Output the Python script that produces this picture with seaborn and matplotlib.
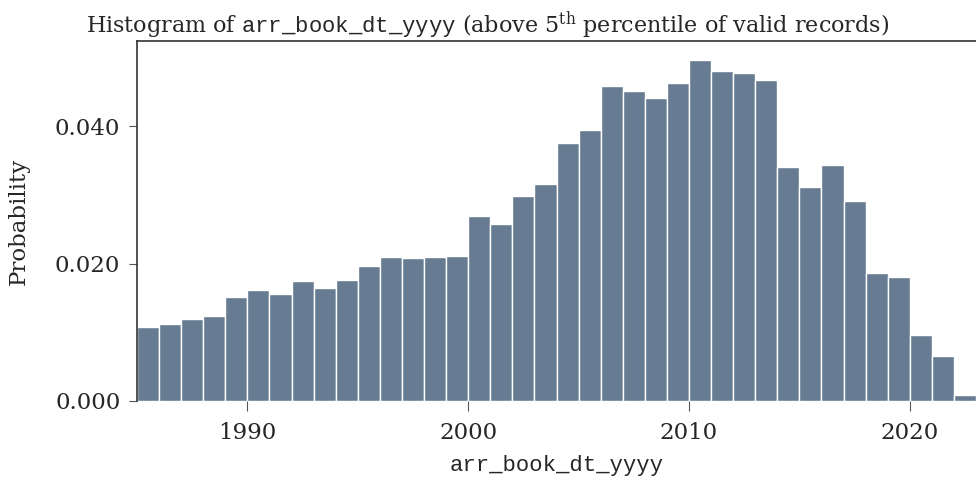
import numpy as np
import pandas as pd
import matplotlib
matplotlib.use("Agg")
import matplotlib.pyplot as plt
import seaborn as sns

# year bins (left edges) and bar heights
years = np.arange(1985, 2023)
probs = [0.0108, 0.0112, 0.0119, 0.0124, 0.0152, 0.0162, 0.0156, 0.0175, 0.0165, 0.0176,
         0.0196, 0.0209, 0.0208, 0.0210, 0.0211, 0.0269, 0.0257, 0.0298, 0.0316, 0.0375,
         0.0394, 0.0458, 0.0451, 0.0441, 0.0463, 0.0497, 0.0480, 0.0477, 0.0467, 0.0340,
         0.0311, 0.0343, 0.0291, 0.0187, 0.0181, 0.0096, 0.0065, 0.0008]
y_ticks = [0.0, 0.02, 0.04]
x_ticks = [1990, 2000, 2010, 2020]

df = pd.DataFrame({"year": years + 0.5, "prob": probs})

sns.set_style("ticks")
plt.rcParams['font.family'] = ['DejaVu Serif']
plt.rcParams['mathtext.fontset'] = 'custom'
plt.rcParams['mathtext.rm'] = 'DejaVu Serif'
plt.rcParams['mathtext.tt'] = 'Liberation Mono'

fig = plt.figure(figsize=(9.76, 4.87), dpi=100)
ax = fig.add_axes([0.1404, 0.1766, 0.8596, 0.7392])

sns.histplot(data=df, x="year", weights="prob", binwidth=1, binrange=(1985, 2023),
             stat="count", color="#677c93", alpha=1.0, edgecolor="white",
             linewidth=1.0, ax=ax)

ax.set_xlim(1985, 2023)
ax.set_ylim(0, 0.0524)
ax.set_yticks(y_ticks)
ax.set_yticklabels([f"{v:.3f}" for v in y_ticks])
ax.set_xticks(x_ticks)
ax.tick_params(axis='both', labelsize=16.5, color="#555555", direction='out')
ax.tick_params(axis='x', length=7, pad=8)
ax.tick_params(axis='y', length=6, pad=6)

ax.set_ylabel("Probability", fontsize=16.5, labelpad=18)
ax.set_xlabel("arr_book_dt_yyyy", fontsize=16, family="Liberation Mono", labelpad=8)
# title sits centred on the whole figure, not on the axes
ax.set_title(r"Histogram of $\mathtt{arr\_book\_dt\_yyyy}$ (above 5$^{\mathrm{th}}$ percentile of valid records)",
             fontsize=16, pad=6, x=0.418)

for side in ["left", "top"]:
    ax.spines[side].set_color("#333333")
    ax.spines[side].set_linewidth(1.2)
ax.spines["bottom"].set_visible(False)
ax.spines["right"].set_visible(False)

fig.savefig("out.png", dpi=100)
